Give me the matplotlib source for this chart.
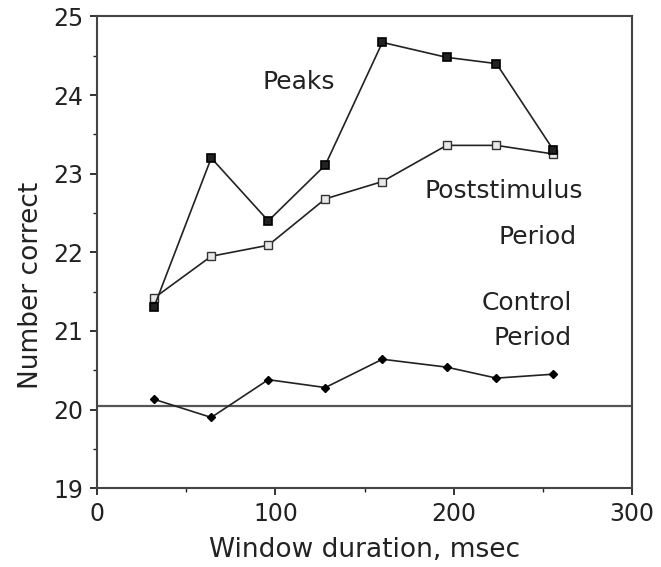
import matplotlib
matplotlib.use("Agg")
import matplotlib.pyplot as plt

# Window durations (msec)
window_ms = [32, 64, 96, 128, 160, 196, 224, 256]

# Number correct for each condition
peaks = [21.31, 23.20, 22.40, 23.11, 24.67, 24.48, 24.40, 23.30]
poststimulus = [21.42, 21.95, 22.09, 22.68, 22.90, 23.36, 23.36, 23.25]
control = [20.13, 19.90, 20.38, 20.28, 20.64, 20.54, 20.40, 20.45]

chance_level = 20.05

x_ticks = [0, 100, 200, 300]
y_ticks = [19, 20, 21, 22, 23, 24, 25]

fig = plt.figure(figsize=(6.61, 5.67), dpi=100)
ax = fig.add_axes([0.147, 0.139, 0.809, 0.832])

ax.axhline(chance_level, color="#555555", linewidth=1.6, zorder=1)

line_kw = dict(color="#222222", linewidth=1.2)
ax.plot(window_ms, peaks, marker="s", markersize=5.5, markerfacecolor="#222222",
        markeredgecolor="black", markeredgewidth=1.2, zorder=3, **line_kw)
ax.plot(window_ms, poststimulus, marker="s", markersize=5.5, markerfacecolor="#e8e8e8",
        markeredgecolor="#333333", markeredgewidth=1.0, zorder=2, **line_kw)
ax.plot(window_ms, control, marker="D", markersize=4.5, markerfacecolor="black",
        markeredgecolor="black", zorder=2, **line_kw)

txt_kw = dict(fontsize=18, ha="center", va="center", color="#222222")
ax.text(113, 24.17, "Peaks", **txt_kw)
ax.text(228, 22.78, "Poststimulus", **txt_kw)
ax.text(247, 22.19, "Period", **txt_kw)
ax.text(241, 21.36, "Control", **txt_kw)
ax.text(244, 20.91, "Period", **txt_kw)

ax.set_xlim(0, 300)
ax.set_ylim(19, 25)
ax.set_xticks(x_ticks)
ax.set_xticks([50, 150, 250], minor=True)
ax.set_yticks(y_ticks)
ax.set_yticks([19.5, 20.5, 21.5, 22.5, 23.5, 24.5], minor=True)
ax.tick_params(axis="both", which="both", direction="out", labelsize=17,
               color="#222222", labelcolor="#222222")
ax.tick_params(axis="both", which="major", length=5, width=1.3, pad=5)
ax.tick_params(axis="both", which="minor", length=3, width=1.0)

for s in ax.spines.values():
    s.set_linewidth(1.5)
    s.set_color("#444444")

ax.set_xlabel("Window duration, msec", fontsize=19, color="#222222", labelpad=8)
ax.set_ylabel("Number correct", fontsize=19, color="#222222")
ax.yaxis.set_label_coords(-0.1, 0.43)

fig.savefig("out.png", dpi=100)
